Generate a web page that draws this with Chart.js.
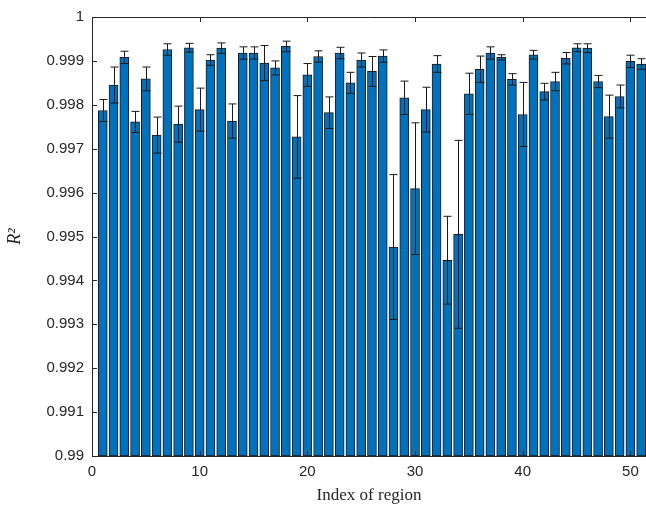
<!DOCTYPE html>
<html>
<head>
<meta charset="utf-8">
<script src="https://cdn.jsdelivr.net/npm/chart.js@4.4.1/dist/chart.umd.min.js"></script>
<style>
  html, body { margin: 0; padding: 0; background: #fff; }
  #wrap { width: 646px; height: 510px; }
</style>
</head>
<body>
<div id="wrap"><canvas id="grafico" width="646" height="510"></canvas></div>
<script>
// valores
const regiones = [];
for (let i = 1; i <= 51; i++) regiones.push(i);

const r2 = [
  0.99787, 0.99845, 0.99908, 0.99761, 0.99859, 0.99731, 0.99926, 0.99756, 0.99930, 0.99789,
  0.99902, 0.99929, 0.99763, 0.99918, 0.99918, 0.99895, 0.99884, 0.99933, 0.99727, 0.99868,
  0.99910, 0.99782, 0.99918, 0.99850, 0.99902, 0.99876, 0.99911, 0.99476, 0.99816, 0.99609,
  0.99789, 0.99893, 0.99446, 0.99505, 0.99825, 0.99881, 0.99918, 0.99908, 0.99858, 0.99778,
  0.99914, 0.99830, 0.99853, 0.99906, 0.99930, 0.99929, 0.99853, 0.99773, 0.99819, 0.99899,
  0.99893
];

const errores = [
  0.00025, 0.00041, 0.00014, 0.00024, 0.00027, 0.00041, 0.00013, 0.00041, 0.00010, 0.00049,
  0.00012, 0.00012, 0.00039, 0.00014, 0.00014, 0.00040, 0.00016, 0.00012, 0.00094, 0.00026,
  0.00013, 0.00036, 0.00013, 0.00024, 0.00016, 0.00034, 0.00014, 0.00165, 0.00038, 0.00150,
  0.00051, 0.00019, 0.00100, 0.00214, 0.00047, 0.00030, 0.00014, 0.00006, 0.00013, 0.00073,
  0.00010, 0.00019, 0.00021, 0.00013, 0.00009, 0.00010, 0.00014, 0.00049, 0.00026, 0.00014,
  0.00012
];

const xTicks = [0, 10, 20, 30, 40, 50];
const yTicks = [0.99, 0.991, 0.992, 0.993, 0.994, 0.995, 0.996, 0.997, 0.998, 0.999, 1];

// barras de error y marco estilo matlab
const erroresPlugin = {
    id: 'errores',
    afterDatasetsDraw(chart) {
        const ctx = chart.ctx;
        const x = chart.scales.x, y = chart.scales.y;
        ctx.save();
        ctx.strokeStyle = '#1a1a1a';
        ctx.lineWidth = 1;
        r2.forEach((v, i) => {
            const px = Math.round(x.getPixelForValue(regiones[i])) + 0.5;
            const top = y.getPixelForValue(v + errores[i]);
            const bot = y.getPixelForValue(v - errores[i]);
            ctx.beginPath();
            ctx.moveTo(px, top); ctx.lineTo(px, bot);
            ctx.moveTo(px - 4, top); ctx.lineTo(px + 4, top);
            ctx.moveTo(px - 4, bot); ctx.lineTo(px + 4, bot);
            ctx.stroke();
        });

        // marco y ticks hacia dentro
        const a = chart.chartArea;
        ctx.strokeStyle = '#262626';
        ctx.beginPath();
        ctx.moveTo(a.left + 0.5, a.top + 0.5);
        ctx.lineTo(a.right + 2, a.top + 0.5);
        ctx.moveTo(a.left + 0.5, a.top);
        ctx.lineTo(a.left + 0.5, a.bottom + 0.5);
        ctx.lineTo(a.right + 2, a.bottom + 0.5);
        yTicks.forEach(t => {
            const py = Math.round(y.getPixelForValue(t)) + 0.5;
            ctx.moveTo(a.left, py); ctx.lineTo(a.left + 5, py);
        });
        xTicks.forEach(t => {
            const px = Math.round(x.getPixelForValue(t)) + 0.5;
            ctx.moveTo(px, a.bottom); ctx.lineTo(px, a.bottom - 5);
            ctx.moveTo(px, a.top); ctx.lineTo(px, a.top + 5);
        });
        ctx.stroke();
        ctx.restore();
    }
};

new Chart(document.getElementById('grafico'), {
    type: 'bar',
    data: {
        datasets: [{
            data: regiones.map((r, i) => ({ x: r, y: r2[i] })),
            base: 0.99,
            backgroundColor: '#0072BD',
            borderColor: '#1a1a1a',
            borderWidth: 1,
            barThickness: 9,
            borderSkipped: false
        }]
    },
    options: {
        responsive: false,
        animation: false,
        layout: { padding: { top: 12, right: 0, left: 0, bottom: 0 } },
        plugins: { legend: { display: false }, tooltip: { enabled: false } },
        scales: {
            x: {
                type: 'linear',
                offset: false,
                min: 0,
                max: 51.45,
                grid: { display: false, drawTicks: false, offset: false },
                border: { display: false },
                afterBuildTicks: axis => { axis.ticks = xTicks.map(v => ({ value: v })); },
                afterFit: scale => { scale.height = 54; },
                ticks: {
                    padding: 7,
                    maxRotation: 0,
                    color: '#262626',
                    font: { family: 'Liberation Sans, Arial, sans-serif', size: 15 }
                },
                title: {
                    display: true,
                    text: 'Index of region',
                    color: '#262626',
                    padding: { top: 2 },
                    font: { family: 'Liberation Serif, Times New Roman, serif', size: 17 }
                }
            },
            y: {
                min: 0.99,
                max: 1,
                grid: { display: false, drawTicks: false },
                border: { display: false },
                afterBuildTicks: axis => { axis.ticks = yTicks.map(v => ({ value: v })); },
                afterFit: scale => { scale.width = 92; },
                ticks: {
                    padding: 8,
                    color: '#262626',
                    font: { family: 'Liberation Sans, Arial, sans-serif', size: 15 },
                    callback: v => String(Number(v.toFixed(3)))
                },
                title: {
                    display: true,
                    text: 'R²',
                    color: '#262626',
                    padding: { bottom: 4 },
                    font: { family: 'Liberation Serif, Times New Roman, serif', size: 18, style: 'italic' }
                }
            }
        }
    },
    plugins: [erroresPlugin]
});
</script>
</body>
</html>
